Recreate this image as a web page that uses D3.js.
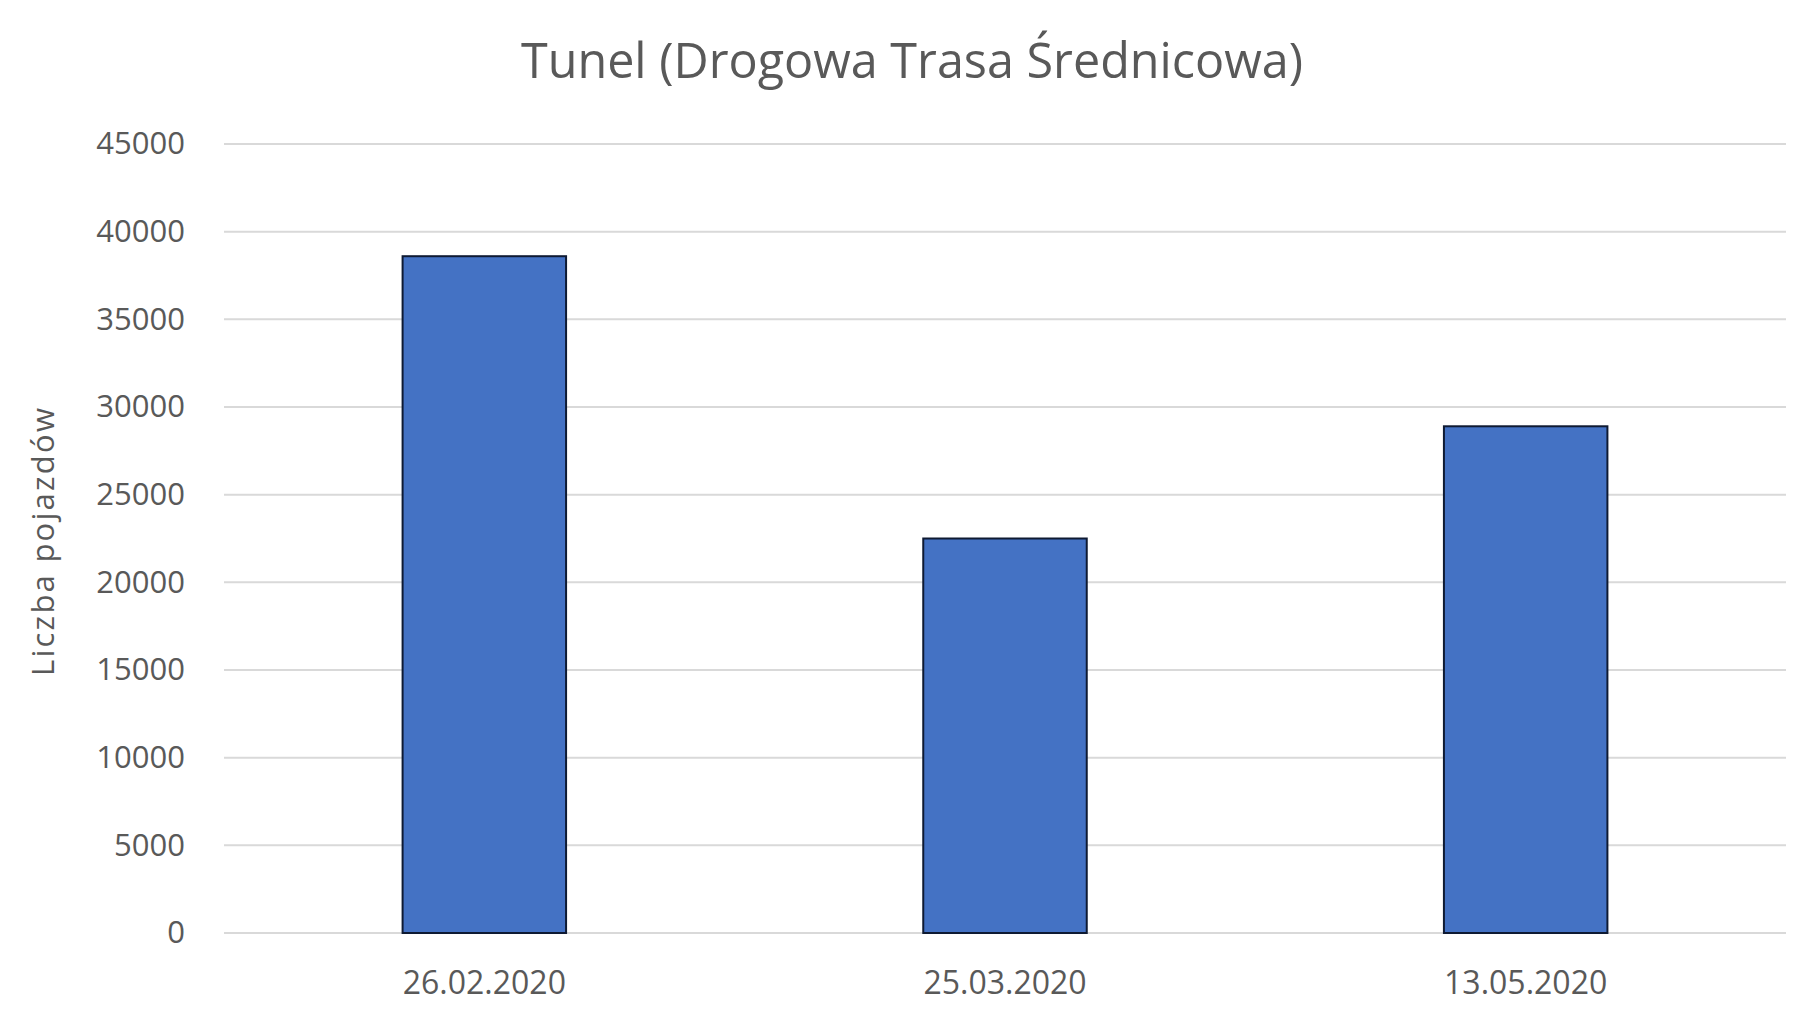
<!DOCTYPE html>
<html>

<head>
    <meta charset="utf-8">
    <title>Tunel (Drogowa Trasa Średnicowa)</title>
    <script src="https://d3js.org/d3.v7.min.js" charset="utf-8"></script>
    <style>
        body {
            margin: 0;
            background: #fff;
            font-family: "Open Sans", sans-serif;
        }

        .grid line {
            stroke: #d9d9d9;
            stroke-width: 2;
        }

        .tick text {
            fill: #595959;
        }
    </style>
</head>

<body>
    <script>
        // data
        const dates = ["26.02.2020", "25.03.2020", "13.05.2020"];
        const vehicles = [38600, 22500, 28900];
        const yTicks = [0, 5000, 10000, 15000, 20000, 25000, 30000, 35000, 40000, 45000];

        const width = 1820;
        const height = 1020;
        const margin = { top: 144, right: 34, bottom: 87, left: 224 };

        const svg = d3.select('body')
            .append('svg')
            .attr('width', width)
            .attr('height', height)

        const x = d3.scaleBand()
            .domain(dates)
            .range([margin.left, width - margin.right])
            .paddingInner(0.686)
            .paddingOuter(0.343)

        const y = d3.scaleLinear()
            .domain([0, 45000])
            .range([height - margin.bottom, margin.top])

        // horizontal gridlines
        svg.append('g')
            .attr('class', 'grid')
            .selectAll('line')
            .data(yTicks)
            .enter()
            .append('line')
            .attr('x1', margin.left)
            .attr('x2', width - margin.right)
            .attr('y1', d => y(d))
            .attr('y2', d => y(d))

        // y axis labels
        const yAxis = svg.append('g')
            .attr('transform', `translate(${margin.left - 39},0)`)
            .call(d3.axisLeft(y).tickValues(yTicks).tickSize(0).tickPadding(0).tickFormat(d3.format('d')))
        yAxis.select('.domain').remove()
        yAxis.selectAll('text')
            .style('font-family', '"Open Sans", sans-serif')
            .style('font-size', '31px')

        // bars
        svg.append('g')
            .selectAll('rect')
            .data(vehicles)
            .enter()
            .append('rect')
            .attr('x', (d, i) => x(dates[i]))
            .attr('width', x.bandwidth())
            .attr('y', d => y(d))
            .attr('height', d => y(0) - y(d))
            .attr('fill', '#4472c4')
            .attr('stroke', '#0e1a33')
            .attr('stroke-width', 2)

        // x axis labels
        const xAxis = svg.append('g')
            .attr('transform', `translate(0,${height - margin.bottom + 38})`)
            .call(d3.axisBottom(x).tickSize(0).tickPadding(0))
        xAxis.select('.domain').remove()
        xAxis.selectAll('text')
            .style('font-family', '"Open Sans", sans-serif')
            .style('font-size', '32px')

        // title
        svg.append('text')
            .attr('x', 912)
            .attr('y', 78)
            .attr('text-anchor', 'middle')
            .attr('fill', '#595959')
            .style('font-size', '48.5px')
            .text('Tunel (Drogowa Trasa Średnicowa)')

        // y axis title
        svg.append('text')
            .attr('transform', 'translate(54,542) rotate(-90)')
            .attr('text-anchor', 'middle')
            .attr('fill', '#595959')
            .attr('textLength', 268)
            .attr('lengthAdjust', 'spacing')
            .style('font-size', '31px')
            .text('Liczba pojazdów')
    </script>
</body>

</html>
